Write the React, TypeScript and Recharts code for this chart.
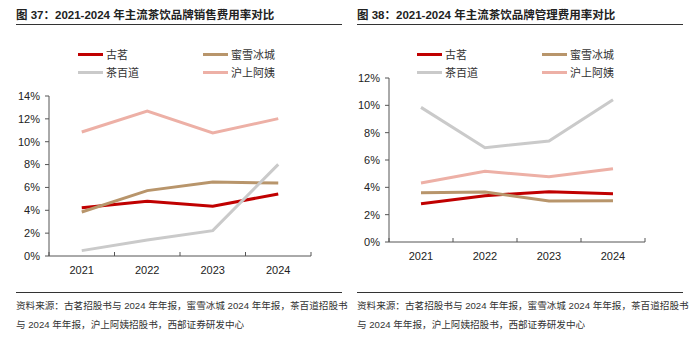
import { CartesianGrid, Line, LineChart, XAxis, YAxis } from "recharts";

const years = ["2021", "2022", "2023", "2024"];

// 图37 销售费用率 (%)
const salesGuming = [4.23, 4.78, 4.35, 5.43];
const salesMixue = [3.85, 5.72, 6.47, 6.39];
const salesChabaidao = [0.47, 1.4, 2.22, 8.02];
const salesHushang = [10.85, 12.69, 10.76, 12.02];
const salesTicks = [0, 2, 4, 6, 8, 10, 12, 14];

// 图38 管理费用率 (%)
const adminGuming = [2.8, 3.39, 3.68, 3.53];
const adminMixue = [3.61, 3.66, 3.0, 3.02];
const adminChabaidao = [9.85, 6.9, 7.39, 10.41];
const adminHushang = [4.32, 5.17, 4.78, 5.36];
const adminTicks = [0, 2, 4, 6, 8, 10, 12];

const brands = [
  { key: "guming", name: "古茗", color: "#C00000" },
  { key: "mixue", name: "蜜雪冰城", color: "#B8956B" },
  { key: "chabaidao", name: "茶百道", color: "#CACACA" },
  { key: "hushang", name: "沪上阿姨", color: "#EDB0A6" },
];

const salesData = years.map((year, i) => ({
  year,
  guming: salesGuming[i],
  mixue: salesMixue[i],
  chabaidao: salesChabaidao[i],
  hushang: salesHushang[i],
}));

const adminData = years.map((year, i) => ({
  year,
  guming: adminGuming[i],
  mixue: adminMixue[i],
  chabaidao: adminChabaidao[i],
  hushang: adminHushang[i],
}));

const axisColor = "#555";
const numFont = "'Liberation Sans', Arial, sans-serif";
const cjkFont = "'Liberation Sans', 'Noto Sans CJK SC', sans-serif";

// category label in the middle, tick marks on the band edges (pointing up)
function YearTick(props: any) {
  const { x, y, payload, index, band } = props;
  const axisY = y - 10;
  return (
    <g>
      <line x1={x - band / 2} x2={x - band / 2} y1={axisY} y2={axisY - 4} stroke={axisColor} />
      {index === years.length - 1 && (
        <line x1={x + band / 2} x2={x + band / 2} y1={axisY} y2={axisY - 4} stroke={axisColor} />
      )}
      <text x={x} y={y} dy="0.71em" textAnchor="middle" fontSize={11} fontFamily={numFont} fill="#222">
        {payload.value}
      </text>
    </g>
  );
}

function Legend({ left }: { left: number }) {
  const cols = [0, 125];
  return (
    <>
      {brands.map((b, i) => (
        <div
          key={b.key}
          style={{
            position: "absolute",
            left: left + cols[i % 2],
            top: i < 2 ? 47 : 65,
            display: "flex",
            alignItems: "center",
            fontSize: 11,
            fontFamily: "'Noto Sans CJK SC', sans-serif",
            color: "#333",
            lineHeight: "14px",
          }}
        >
          <span style={{ width: 25, height: 3, background: b.color, marginRight: 3, display: "inline-block" }} />
          {b.name}
        </div>
      ))}
    </>
  );
}

function Panel({
  left,
  title,
  data,
  ticks,
  margin,
  yWidth,
  legendLeft,
}: {
  left: number;
  title: string;
  data: any[];
  ticks: number[];
  margin: { top: number; right: number; bottom: number; left: number };
  yWidth: number;
  legendLeft: number;
}) {
  const band = (350 - margin.left - margin.right - yWidth) / years.length;
  return (
    <div style={{ position: "absolute", left, top: 0, width: 350, height: 351 }}>
      <div
        style={{
          position: "absolute",
          left: 16,
          top: 6,
          fontSize: 11.5,
          fontWeight: "bold",
          fontFamily: cjkFont,
          color: "#222",
          whiteSpace: "nowrap",
        }}
      >
        {title}
      </div>
      <div style={{ position: "absolute", left: 16, top: 24, width: 326, height: 1, background: "#333" }} />
      <Legend left={legendLeft} />
      <div style={{ position: "absolute", left: 0, top: 0 }}>
        <LineChart width={350} height={351} data={data} margin={margin}>
          <CartesianGrid stroke="none" />
          <XAxis
            dataKey="year"
            height={30}
            stroke={axisColor}
            tickLine={false}
            tickSize={4}
            tickMargin={6}
            padding={{ left: band / 2, right: band / 2 }}
            tick={(p: any) => <YearTick {...p} band={band} />}
            interval={0}
          />
          <YAxis
            width={yWidth}
            domain={[ticks[0], ticks[ticks.length - 1]]}
            ticks={ticks}
            tickFormatter={(v: number) => `${v}%`}
            stroke={axisColor}
            tickSize={4}
            tickMargin={5}
            tick={{ fontSize: 11, fontFamily: numFont, fill: "#222" }}
            interval={0}
          />
          {brands.map((b) => (
            <Line
              key={b.key}
              dataKey={b.key}
              name={b.name}
              stroke={b.color}
              strokeWidth={3}
              dot={false}
              activeDot={false}
              type="linear"
              isAnimationActive={false}
            />
          ))}
        </LineChart>
      </div>
      <div style={{ position: "absolute", left: 16, top: 292, width: 326, height: 1, background: "#333" }} />
      <div
        style={{
          position: "absolute",
          left: 16,
          top: 296,
          fontSize: 9.6,
          fontFamily: cjkFont,
          color: "#333",
          lineHeight: "19px",
          whiteSpace: "nowrap",
        }}
      >
        <div>资料来源：古茗招股书与 2024 年年报，蜜雪冰城 2024 年年报，茶百道招股书</div>
        <div>与 2024 年年报，沪上阿姨招股书，西部证券研发中心</div>
      </div>
    </div>
  );
}

export default function App() {
  return (
    <div style={{ position: "absolute", left: 0, top: 0, width: 700, height: 351, background: "#fff" }}>
      <Panel
        left={0}
        title="图 37：2021-2024 年主流茶饮品牌销售费用率对比"
        data={salesData}
        ticks={salesTicks}
        margin={{ top: 96, right: 39, bottom: 65, left: 9 }}
        yWidth={40}
        legendLeft={78}
      />
      <Panel
        left={341}
        title="图 38：2021-2024 年主流茶饮品牌管理费用率对比"
        data={adminData}
        ticks={adminTicks}
        margin={{ top: 78, right: 46, bottom: 79, left: 14 }}
        yWidth={34}
        legendLeft={76}
      />
    </div>
  );
}
